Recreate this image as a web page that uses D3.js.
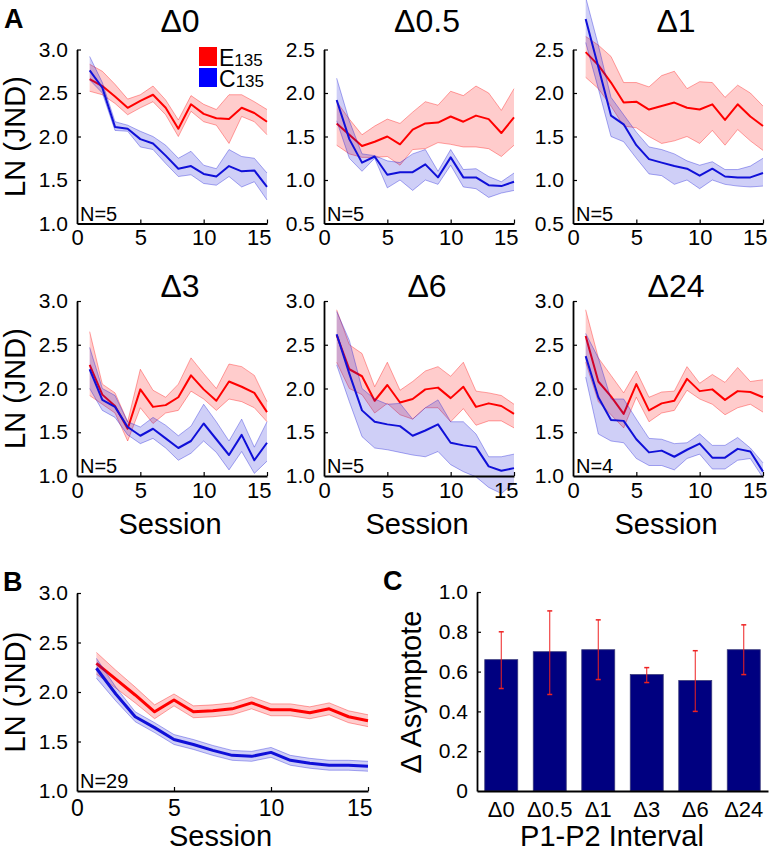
<!DOCTYPE html>
<html><head><meta charset="utf-8">
<script src="https://cdn.jsdelivr.net/npm/d3@7"></script>
<style>
body{margin:0;background:#fff}
svg{display:block}
text{font-family:"Liberation Sans",Arial,sans-serif;fill:#000}
</style>
</head><body>
<svg id="chart" width="769" height="853"></svg>
<script>
// ---------------- DATA ----------------
const sessions = [1,2,3,4,5,6,7,8,9,10,11,12,13,14,15];
const xTicks = [0,5,10,15];

// Δ0
const E_d0    = [2.66,2.58,2.46,2.33,2.41,2.48,2.33,2.09,2.37,2.26,2.21,2.20,2.33,2.27,2.17];
const E_d0_hi = [2.83,2.75,2.60,2.43,2.48,2.58,2.42,2.19,2.47,2.37,2.31,2.48,2.48,2.40,2.31];
const E_d0_lo = [2.52,2.48,2.38,2.25,2.33,2.40,2.25,2.00,2.29,2.17,2.13,1.92,2.23,2.17,2.02];
const C_d0    = [2.76,2.56,2.11,2.09,1.97,1.92,1.78,1.63,1.66,1.57,1.54,1.66,1.60,1.61,1.42];
const C_d0_hi = [2.92,2.62,2.17,2.13,2.06,2.00,1.90,1.75,1.83,1.67,1.63,1.85,1.77,1.75,1.58];
const C_d0_lo = [2.65,2.50,2.07,2.06,1.88,1.85,1.69,1.54,1.56,1.46,1.44,1.54,1.42,1.48,1.27];
// Δ0.5
const E_d05    = [1.65,1.52,1.39,1.44,1.50,1.41,1.58,1.65,1.66,1.73,1.67,1.74,1.70,1.54,1.72];
const E_d05_hi = [1.90,1.70,1.52,1.62,1.70,1.65,1.78,1.90,1.86,2.02,1.97,2.08,2.00,1.80,2.05];
const E_d05_lo = [1.40,1.30,1.26,1.26,1.27,1.17,1.35,1.36,1.43,1.41,1.38,1.38,1.36,1.27,1.40];
const C_d05    = [1.92,1.47,1.20,1.27,1.06,1.09,1.09,1.18,1.03,1.26,1.03,1.03,0.94,0.93,0.98];
const C_d05_hi = [2.17,1.68,1.30,1.28,1.22,1.20,1.30,1.35,1.10,1.35,1.12,1.13,1.04,0.98,1.08];
const C_d05_lo = [1.68,1.25,1.10,1.25,0.91,1.00,0.88,1.00,0.95,1.17,0.92,0.90,0.80,0.85,0.88];
// Δ1
const E_d1    = [2.47,2.32,2.12,1.89,1.90,1.81,1.85,1.89,1.83,1.81,1.87,1.69,1.87,1.73,1.62];
const E_d1_hi = [2.65,2.55,2.42,2.12,2.12,2.07,2.20,2.25,2.05,2.13,2.12,1.95,2.09,2.00,1.85];
const E_d1_lo = [2.18,2.05,1.85,1.62,1.60,1.50,1.42,1.45,1.50,1.42,1.57,1.40,1.58,1.45,1.34];
const C_d1    = [2.85,2.30,1.74,1.64,1.40,1.24,1.20,1.16,1.13,1.05,1.13,1.04,1.03,1.03,1.08];
const C_d1_hi = [3.10,2.55,1.95,1.75,1.55,1.38,1.35,1.30,1.22,1.17,1.21,1.12,1.12,1.16,1.25];
const C_d1_lo = [2.58,2.05,1.50,1.44,1.25,1.07,1.05,0.95,1.00,0.90,1.00,0.95,0.93,0.92,0.93];
// Δ3
const E_d3    = [2.27,1.93,1.80,1.54,1.99,1.79,1.81,1.90,2.15,1.99,1.86,2.08,2.02,1.95,1.73];
const E_d3_hi = [2.65,2.05,1.95,1.62,2.22,1.98,1.90,2.05,2.35,2.17,2.00,2.28,2.25,2.15,1.85];
const E_d3_lo = [1.92,1.82,1.72,1.40,1.78,1.60,1.72,1.75,1.97,1.88,1.75,1.88,1.85,1.78,1.62];
const C_d3    = [2.22,1.87,1.79,1.56,1.46,1.54,1.43,1.32,1.40,1.60,1.42,1.24,1.47,1.18,1.38];
const C_d3_hi = [2.47,2.00,1.92,1.62,1.56,1.67,1.58,1.46,1.57,1.82,1.62,1.40,1.65,1.33,1.62];
const C_d3_lo = [2.00,1.75,1.67,1.47,1.37,1.43,1.32,1.18,1.26,1.40,1.27,1.07,1.28,1.03,1.17];
// Δ6
const E_d6    = [2.61,2.22,2.14,1.86,2.04,1.84,1.88,1.99,2.01,1.89,2.02,1.79,1.83,1.80,1.71];
const E_d6_hi = [2.90,2.50,2.40,2.02,2.30,1.98,2.08,2.20,2.25,2.14,2.30,1.97,1.95,1.92,1.82];
const E_d6_lo = [2.30,2.00,1.93,1.72,1.83,1.70,1.65,1.78,1.78,1.62,1.77,1.58,1.63,1.63,1.55];
const C_d6    = [2.62,2.17,1.75,1.62,1.59,1.57,1.46,1.52,1.59,1.38,1.35,1.33,1.11,1.06,1.09];
const C_d6_hi = [2.88,2.55,2.00,1.88,1.82,1.83,1.65,1.78,1.87,1.62,1.62,1.48,1.22,1.22,1.25];
const C_d6_lo = [2.27,1.85,1.45,1.32,1.30,1.27,1.24,1.22,1.28,1.13,1.05,0.99,0.87,0.80,0.92];
// Δ24
const E_d24    = [2.60,2.08,1.91,1.71,2.05,1.75,1.83,1.86,2.11,1.97,1.99,1.87,1.97,1.96,1.90];
const E_d24_hi = [2.90,2.35,2.15,1.95,2.20,1.90,1.96,1.97,2.25,2.06,2.16,2.07,2.24,2.08,2.10];
const E_d24_lo = [2.30,1.85,1.70,1.55,1.90,1.62,1.72,1.75,1.98,1.88,1.82,1.70,1.78,1.82,1.73];
const C_d24    = [2.37,1.90,1.64,1.63,1.42,1.27,1.29,1.22,1.30,1.37,1.21,1.21,1.31,1.28,1.05];
const C_d24_hi = [2.63,2.35,1.88,1.88,1.65,1.43,1.42,1.37,1.38,1.48,1.35,1.35,1.44,1.32,1.15];
const C_d24_lo = [2.13,1.48,1.40,1.38,1.20,1.12,1.12,1.07,1.20,1.25,1.08,1.08,1.18,1.20,0.98];
// B: all animals
const E_all    = [2.29,2.13,1.97,1.80,1.92,1.80,1.81,1.83,1.89,1.82,1.82,1.79,1.83,1.75,1.71];
const E_all_hi = [2.40,2.22,2.05,1.87,1.98,1.86,1.87,1.89,1.95,1.88,1.88,1.85,1.89,1.81,1.77];
const E_all_lo = [2.18,2.04,1.89,1.73,1.86,1.74,1.75,1.77,1.83,1.76,1.76,1.73,1.77,1.69,1.65];
const C_all    = [2.24,1.98,1.75,1.64,1.52,1.47,1.41,1.36,1.35,1.39,1.31,1.28,1.26,1.26,1.25];
const C_all_hi = [2.34,2.05,1.80,1.69,1.57,1.52,1.46,1.41,1.40,1.44,1.36,1.33,1.31,1.31,1.30];
const C_all_lo = [2.14,1.91,1.70,1.59,1.47,1.42,1.36,1.31,1.30,1.34,1.26,1.23,1.21,1.21,1.20];
// C: Δ asymptote
const intervals = ["\u03940","\u03940.5","\u03941","\u03943","\u03946","\u039424"];
const asym    = [0.66,0.70,0.71,0.585,0.555,0.71];
const asym_hi = [0.80,0.905,0.86,0.62,0.705,0.835];
const asym_lo = [0.515,0.485,0.56,0.545,0.40,0.585];
const asymTicks = [0,0.2,0.4,0.6,0.8,1.0];

// ---------------- DRAW ----------------
const svg = d3.select("#chart");
const RED = "#ff0000", BLUE = "#1010d8";
const FONT_TICK = 21, FONT_LAB = 29;

function styleAxis(g){
  g.select(".domain").attr("stroke","#000").attr("stroke-width",1.8);
  g.selectAll(".tick line").attr("stroke","#000").attr("stroke-width",1.2);
  g.selectAll(".tick text").attr("font-size",FONT_TICK).attr("font-family","Liberation Sans, Arial, sans-serif").attr("fill","#000");
}

function linePanel(o){
  const x = d3.scaleLinear().domain([0,15]).range([o.x0, o.x1]);
  const y = d3.scaleLinear().domain(o.yDom).range([o.y1, o.y0]);
  const g = svg.append("g");
  const series = [
    {m:o.E, hi:o.Ehi, lo:o.Elo, c:RED},
    {m:o.C, hi:o.Chi, lo:o.Clo, c:BLUE}
  ];
  series.forEach(s=>{
    const area = d3.area().x((d,i)=>x(sessions[i])).y0((d,i)=>y(s.lo[i])).y1((d,i)=>y(s.hi[i]));
    g.append("path").datum(s.m).attr("d",area).attr("fill",s.c).attr("fill-opacity",0.2).attr("stroke","none");
    const lh = d3.line().x((d,i)=>x(sessions[i])).y(d=>y(d));
    g.append("path").datum(s.hi).attr("d",lh).attr("fill","none").attr("stroke",s.c).attr("stroke-opacity",0.35).attr("stroke-width",1);
    g.append("path").datum(s.lo).attr("d",lh).attr("fill","none").attr("stroke",s.c).attr("stroke-opacity",0.35).attr("stroke-width",1);
    g.append("path").datum(s.m).attr("d",lh).attr("fill","none").attr("stroke",s.c).attr("stroke-width",o.lw||2).attr("stroke-linejoin","round");
  });
  const ax = g.append("g").attr("transform",`translate(${o.x0},0)`)
    .call(d3.axisLeft(y).tickValues(o.yTicks).tickFormat(d3.format(".1f")).tickSize(-4).tickSizeOuter(0).tickPadding(9));
  styleAxis(ax);
  const bx = g.append("g").attr("transform",`translate(0,${o.y1})`)
    .call(d3.axisBottom(x).tickValues(xTicks).tickFormat(d3.format("d")).tickSize(-4).tickSizeOuter(0).tickPadding(o.xpad||6));
  styleAxis(bx);
  bx.selectAll(".tick text").attr("font-size",o.xfs||22);
  bx.selectAll(".tick").filter(d=>d===15).select("text").attr("text-anchor","end").attr("dx",4);
  bx.selectAll(".tick").filter(d=>d===0).select("line").remove();
  ax.selectAll(".tick").filter((d,i)=>i===0).select("line").remove();
  if(o.title) g.append("text").attr("x",(o.x0+o.x1)/2+8).attr("y",o.titleY).attr("text-anchor","middle").attr("font-size",32).text(o.title);
  g.append("text").attr("x",o.x0+3).attr("y",o.y1-3).attr("font-size",20).text(o.N);
  if(o.ylab) g.append("text").attr("transform",`translate(${o.ylabX},${(o.y0+o.y1)/2}) rotate(-90)`).attr("text-anchor","middle").attr("font-size",FONT_LAB).text("LN (JND)");
  if(o.xlab) g.append("text").attr("x",(o.x0+o.x1)/2-2).attr("y",o.xlabY).attr("text-anchor","middle").attr("font-size",FONT_LAB).text("Session");
  return g;
}

const colX = [[77,267],[324,514],[573,763]];
const row1 = [49.5,223.5], row2 = [301,476];
const t1 = 32, t2 = 297, YL = 25;

linePanel({x0:colX[0][0],x1:colX[0][1],y0:row1[0],y1:row1[1],yDom:[1,3],yTicks:[1,1.5,2,2.5,3],
  E:E_d0,Ehi:E_d0_hi,Elo:E_d0_lo,C:C_d0,Chi:C_d0_hi,Clo:C_d0_lo,title:"\u03940",titleY:t1,N:"N=5",ylab:true,ylabX:YL});
linePanel({x0:colX[1][0],x1:colX[1][1],y0:row1[0],y1:row1[1],yDom:[0.5,2.5],yTicks:[0.5,1,1.5,2,2.5],
  E:E_d05,Ehi:E_d05_hi,Elo:E_d05_lo,C:C_d05,Chi:C_d05_hi,Clo:C_d05_lo,title:"\u03940.5",titleY:t1,N:"N=5"});
linePanel({x0:colX[2][0],x1:colX[2][1],y0:row1[0],y1:row1[1],yDom:[0.5,2.5],yTicks:[0.5,1,1.5,2,2.5],
  E:E_d1,Ehi:E_d1_hi,Elo:E_d1_lo,C:C_d1,Chi:C_d1_hi,Clo:C_d1_lo,title:"\u03941",titleY:t1,N:"N=5"});
linePanel({x0:colX[0][0],x1:colX[0][1],y0:row2[0],y1:row2[1],yDom:[1,3],yTicks:[1,1.5,2,2.5,3],
  E:E_d3,Ehi:E_d3_hi,Elo:E_d3_lo,C:C_d3,Chi:C_d3_hi,Clo:C_d3_lo,title:"\u03943",titleY:t2,N:"N=5",ylab:true,ylabX:YL,xlab:true,xlabY:534});
linePanel({x0:colX[1][0],x1:colX[1][1],y0:row2[0],y1:row2[1],yDom:[1,3],yTicks:[1,1.5,2,2.5,3],
  E:E_d6,Ehi:E_d6_hi,Elo:E_d6_lo,C:C_d6,Chi:C_d6_hi,Clo:C_d6_lo,title:"\u03946",titleY:t2,N:"N=5",xlab:true,xlabY:534});
linePanel({x0:colX[2][0],x1:colX[2][1],y0:row2[0],y1:row2[1],yDom:[1,3],yTicks:[1,1.5,2,2.5,3],
  E:E_d24,Ehi:E_d24_hi,Elo:E_d24_lo,C:C_d24,Chi:C_d24_hi,Clo:C_d24_lo,title:"\u039424",titleY:t2,N:"N=4",xlab:true,xlabY:534});
// B
linePanel({x0:77,x1:368,y0:593,y1:791,yDom:[1,3],yTicks:[1,1.5,2,2.5,3],
  E:E_all,Ehi:E_all_hi,Elo:E_all_lo,C:C_all,Chi:C_all_hi,Clo:C_all_lo,N:"N=29",ylab:true,ylabX:YL,xlab:true,xlabY:846,lw:3,xpad:9,xfs:23});

// legend
const lg = svg.append("g");
[["E",RED,47],["C","#0000ff",68]].forEach(([t,c,yy])=>{
  lg.append("rect").attr("x",199).attr("y",yy).attr("width",18).attr("height",19).attr("fill",c);
  const tx = lg.append("text").attr("x",219).attr("y",yy+19).attr("font-size",23);
  tx.append("tspan").text(t);
  tx.append("tspan").attr("font-size",17).text("135");
});

// panel letters
[["A",4,28],["B",3,591],["C",383,590]].forEach(([t,x,y])=>{
  svg.append("text").attr("x",x).attr("y",y).attr("font-size",27).attr("font-weight","bold").text(t);
});

// C bar chart
(function(){
  const x = d3.scaleBand().domain(intervals).range([477,768]).paddingInner(0.32).paddingOuter(0.16);
  const y = d3.scaleLinear().domain([0,1]).range([791,592]);
  const g = svg.append("g");
  g.selectAll("rect.bar").data(intervals).join("rect").attr("class","bar")
    .attr("x",d=>x(d)).attr("width",x.bandwidth())
    .attr("y",(d,i)=>y(asym[i])).attr("height",(d,i)=>y(0)-y(asym[i]))
    .attr("fill","#000080").attr("stroke","#3a3a7a").attr("stroke-width",0.8);
  const eb = g.selectAll("g.eb").data(intervals).join("g").attr("class","eb");
  eb.append("line").attr("x1",d=>x(d)+x.bandwidth()/2).attr("x2",d=>x(d)+x.bandwidth()/2)
    .attr("y1",(d,i)=>y(asym_lo[i])).attr("y2",(d,i)=>y(asym_hi[i])).attr("stroke","#ee2222").attr("stroke-width",1);
  [asym_lo,asym_hi].forEach(arr=>{
    eb.append("line").attr("x1",d=>x(d)+x.bandwidth()/2-2.5).attr("x2",d=>x(d)+x.bandwidth()/2+2.5)
      .attr("y1",(d,i)=>y(arr[i])).attr("y2",(d,i)=>y(arr[i])).attr("stroke","#ee2222").attr("stroke-width",1.5);
  });
  const ax = g.append("g").attr("transform","translate(477,0)")
    .call(d3.axisLeft(y).tickValues(asymTicks).tickFormat(d=>d===0?"0":d3.format(".1f")(d)).tickSize(-4).tickSizeOuter(0).tickPadding(9));
  styleAxis(ax);
  ax.selectAll(".tick").filter(d=>d===0).select("line").remove();
  const bx = g.append("g").attr("transform","translate(0,791)")
    .call(d3.axisBottom(x).tickSize(0).tickSizeOuter(0).tickPadding(10));
  styleAxis(bx);
  bx.selectAll(".tick text").attr("font-size",22);
  g.append("text").attr("transform","translate(421,692) rotate(-90)").attr("text-anchor","middle").attr("font-size",FONT_LAB).text("\u0394 Asymptote");
  g.append("text").attr("x",612).attr("y",846).attr("text-anchor","middle").attr("font-size",FONT_LAB).text("P1-P2 Interval");
})();
</script>
</body></html>
